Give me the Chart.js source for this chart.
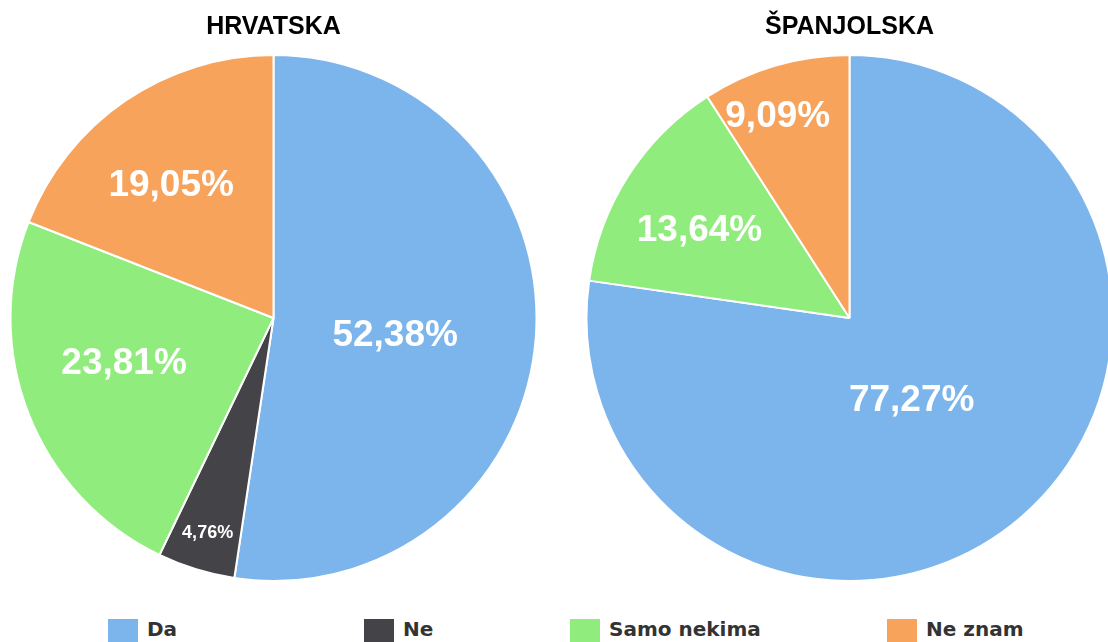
<!DOCTYPE html>
<html>
<head>
<meta charset="utf-8">
<script src="https://cdn.jsdelivr.net/npm/chart.js@4"></script>
<style>
  html, body { margin: 0; padding: 0; background: #fff; }
  body { width: 1108px; height: 642px; overflow: hidden; position: relative; }
  .pie-box { position: absolute; top: 0; width: 547px; height: 582px; }
  .legend-item { position: absolute; top: 619px; height: 24px; white-space: nowrap; }
  .legend-item span.swatch { position: absolute; left: 0; top: 0; width: 30px; height: 24px; }
  .legend-item span.text {
    position: absolute; left: 39px; top: -2px;
    font: bold 20px "DejaVu Sans", sans-serif; color: #333; line-height: 24px;
  }
</style>
</head>
<body>
<div class="pie-box" style="left:0"><canvas id="pie-hr"></canvas></div>
<div class="pie-box" style="left:576px"><canvas id="pie-es"></canvas></div>
<div id="legend"></div>

<script>
// answer categories, shared by both pies
const answers = ['Da', 'Ne', 'Samo nekima', 'Ne znam'];
const answerColors = ['#7cb5ec', '#434348', '#90ed7d', '#f7a35c'];

// percentage of answers per country
const hrvatskaValues = [52.38, 4.76, 23.81, 19.05];
const spanjolskaValues = [77.27, 0, 13.64, 9.09];

// label placement: share of radius along the slice middle, plus a small pixel nudge
const hrvatskaLabelPos = [
    { depth: 0.46, dx: 1, dy: 9 },
    { depth: 0.85, dx: 0, dy: 1 },
    { depth: 0.59, dx: -5, dy: -11 },
    { depth: 0.63, dx: -9, dy: 5 }
];
const spanjolskaLabelPos = [
    { depth: 0.39, dx: -5, dy: 5 },
    { depth: 0, dx: 0, dy: 0 },
    { depth: 0.66, dx: -4, dy: 7 },
    { depth: 0.82, dx: -11, dy: 6 }
];

// left edge of each legend entry
const legendLeft = [108, 364, 570, 887];

const fmtPercent = v => v.toFixed(2).replace('.', ',') + '%';

// white percentage labels inside the slices
const sliceLabels = {
    id: 'sliceLabels',
    afterDatasetsDraw(chart, args, opts) {
        const ctx = chart.ctx;
        const meta = chart.getDatasetMeta(0);
        const values = chart.data.datasets[0].data;
        ctx.save();
        ctx.fillStyle = '#fff';
        ctx.textAlign = 'center';
        ctx.textBaseline = 'middle';
        meta.data.forEach((arc, i) => {
            if (!values[i]) return;
            const p = arc.getProps(['x', 'y', 'startAngle', 'endAngle', 'outerRadius'], true);
            const pos = opts.positions[i];
            const mid = (p.startAngle + p.endAngle) / 2;
            const r = p.outerRadius * pos.depth;
            const size = values[i] < 5 ? 18 : 37;
            ctx.font = `bold ${size}px "Liberation Sans", Arial, sans-serif`;
            ctx.fillText(fmtPercent(values[i]),
                p.x + Math.cos(mid) * r + pos.dx,
                p.y + Math.sin(mid) * r + pos.dy);
        });
        ctx.restore();
    }
};

function makePie(canvasId, title, values, positions) {
    const ctx = document.getElementById(canvasId).getContext('2d');
    return new Chart(ctx, {
        type: 'pie',
        data: {
            labels: answers,
            datasets: [{
                data: values,
                backgroundColor: answerColors,
                borderColor: '#fff',
                borderWidth: 2
            }]
        },
        options: {
            responsive: true,
            maintainAspectRatio: false,
            animation: false,
            layout: { padding: { left: 9.5, right: 9.5, bottom: 0 } },
            plugins: {
                legend: { display: false },
                tooltip: { enabled: false },
                title: {
                    display: true,
                    text: title,
                    color: '#000',
                    font: { family: '"Liberation Sans", Arial, sans-serif', size: 25, weight: 'bold' },
                    padding: { top: 12, bottom: 12 }
                },
                sliceLabels: { positions: positions }
            }
        },
        plugins: [sliceLabels]
    });
}

makePie('pie-hr', 'HRVATSKA', hrvatskaValues, hrvatskaLabelPos);
makePie('pie-es', 'ŠPANJOLSKA', spanjolskaValues, spanjolskaLabelPos);

// shared legend along the bottom
const legend = document.getElementById('legend');
answers.forEach((name, i) => {
    const item = document.createElement('div');
    item.className = 'legend-item';
    item.style.left = legendLeft[i] + 'px';
    item.innerHTML = `<span class="swatch" style="background:${answerColors[i]}"></span><span class="text">${name}</span>`;
    legend.appendChild(item);
});
</script>
</body>
</html>
